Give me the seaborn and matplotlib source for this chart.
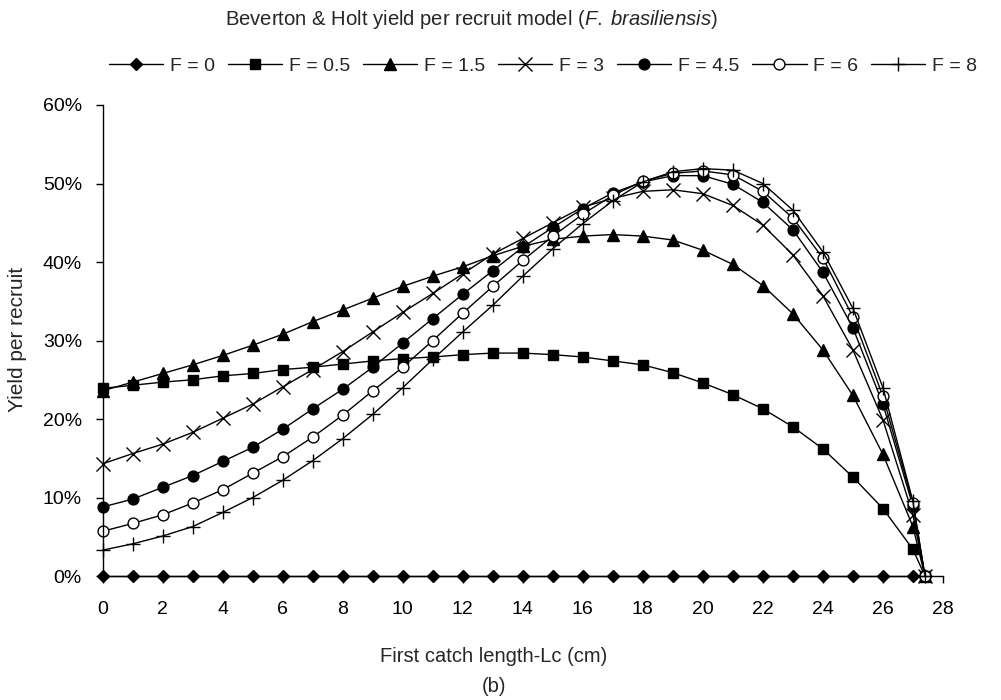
import seaborn as sns
import matplotlib.pyplot as plt
from matplotlib.ticker import PercentFormatter

# First catch length Lc (cm)
lc = [0, 1, 2, 3, 4, 5, 6, 7, 8, 9, 10, 11, 12, 13, 14, 15, 16, 17, 18, 19,
      20, 21, 22, 23, 24, 25, 26, 27, 27.4]

# Yield per recruit (%) for each fishing mortality F
f0 = [0] * 29
f05 = [23.9, 24.3, 24.7, 25.0, 25.5, 25.8, 26.3, 26.6, 27.0, 27.4, 27.7, 27.9, 28.2, 28.4,
       28.4, 28.2, 27.9, 27.4, 26.9, 25.9, 24.6, 23.1, 21.3, 19.0, 16.2, 12.6, 8.6, 3.4, 0]
f15 = [23.6, 24.7, 25.8, 26.9, 28.1, 29.4, 30.8, 32.4, 33.9, 35.4, 36.9, 38.2, 39.4, 40.8,
       42.0, 42.9, 43.3, 43.5, 43.3, 42.8, 41.5, 39.7, 37.0, 33.4, 28.8, 23.0, 15.5, 6.3, 0]
f3 = [14.3, 15.6, 16.8, 18.3, 20.1, 21.9, 24.1, 26.3, 28.6, 31.1, 33.6, 36.0, 38.5, 41.0,
      43.0, 45.0, 47.0, 48.1, 49.0, 49.2, 48.7, 47.2, 44.7, 40.9, 35.7, 28.8, 19.9, 7.8, 0]
f45 = [8.8, 9.8, 11.3, 12.8, 14.6, 16.4, 18.7, 21.3, 23.8, 26.6, 29.7, 32.8, 35.9, 38.9,
       41.9, 44.4, 46.8, 48.8, 50.2, 51.0, 51.0, 49.9, 47.6, 44.1, 38.7, 31.6, 21.9, 8.9, 0]
f6 = [5.7, 6.7, 7.8, 9.3, 11.0, 13.1, 15.2, 17.7, 20.5, 23.6, 26.6, 30.0, 33.5, 36.9,
      40.2, 43.3, 46.1, 48.5, 50.3, 51.3, 51.6, 51.1, 49.0, 45.6, 40.5, 33.0, 22.9, 9.3, 0]
f8 = [3.3, 4.1, 5.1, 6.3, 8.1, 10.0, 12.2, 14.7, 17.5, 20.6, 24.0, 27.6, 31.1, 34.5,
      38.2, 41.7, 44.9, 47.8, 50.2, 51.5, 51.9, 51.7, 50.0, 46.6, 41.3, 34.1, 24.0, 9.5, 0]

labels = ['F = 0', 'F = 0.5', 'F = 1.5', 'F = 3', 'F = 4.5', 'F = 6', 'F = 8']
series = [f0, f05, f15, f3, f45, f6, f8]

# marker, size, face colour
styles = [('D', 6.0, 'black'), ('s', 7.2, 'black'), ('^', 8.5, 'black'),
          ('x', 9.5, 'black'), ('o', 7.8, 'black'), ('o', 7.8, 'white'),
          ('+', 10.5, 'black')]

sns.set_style("ticks")
plt.rcParams['font.family'] = ['Liberation Sans', 'DejaVu Sans']
plt.rcParams['mathtext.fontset'] = 'custom'
plt.rcParams['mathtext.rm'] = 'Liberation Sans'
plt.rcParams['mathtext.it'] = 'Liberation Sans:italic'

fig = plt.figure(figsize=(10.01, 7.0), dpi=100)
ax = fig.add_axes([0.1026, 0.1771, 0.8394, 0.6729])

for y, lab, (m, ms, fc) in zip(series, labels, styles):
    sns.lineplot(x=lc, y=y, ax=ax, label=lab, color='black', linewidth=1.0,
                 marker=m, markersize=ms, markerfacecolor=fc,
                 markeredgecolor='black', markeredgewidth=1.0, clip_on=False)

ax.set_xlim(0, 28)
ax.set_ylim(0, 60)
ax.set_xticks(range(0, 29, 2))
ax.set_yticks(range(0, 61, 10))
ax.yaxis.set_major_formatter(PercentFormatter(xmax=100, decimals=0))
ax.tick_params(axis='both', direction='out', length=5, width=1.0, labelsize=14,
               color='black', labelcolor='black')
ax.tick_params(axis='x', pad=13)
ax.tick_params(axis='y', pad=10)
sns.despine(ax=ax)
for s in ['left', 'bottom']:
    ax.spines[s].set_color('black')
    ax.spines[s].set_linewidth(1.0)
ax.set_xlabel('')
ax.set_ylabel('')

handles, labs = ax.get_legend_handles_labels()
ax.legend().remove()
fig.legend(handles, labs, loc='center', bbox_to_anchor=(0.5425, 0.906), ncol=7,
           frameon=False, fontsize=14, handlelength=2.8, handletextpad=0.35,
           columnspacing=0.65, borderaxespad=0)

fig.text(0.4705, 0.972, r'Beverton & Holt yield per recruit model ($\mathit{F.\;brasiliensis}$)',
         ha='center', va='center', fontsize=14.6)
fig.text(0.4935, 0.0619, 'First catch length-Lc (cm)', ha='center', va='center', fontsize=14.5)
fig.text(0.4935, 0.020, '(b)', ha='center', va='center', fontsize=14.5)
fig.text(0.017, 0.5157, 'Yield per recruit', ha='center', va='center', rotation=90,
         fontsize=15)

fig.savefig('out.png', dpi=100)
